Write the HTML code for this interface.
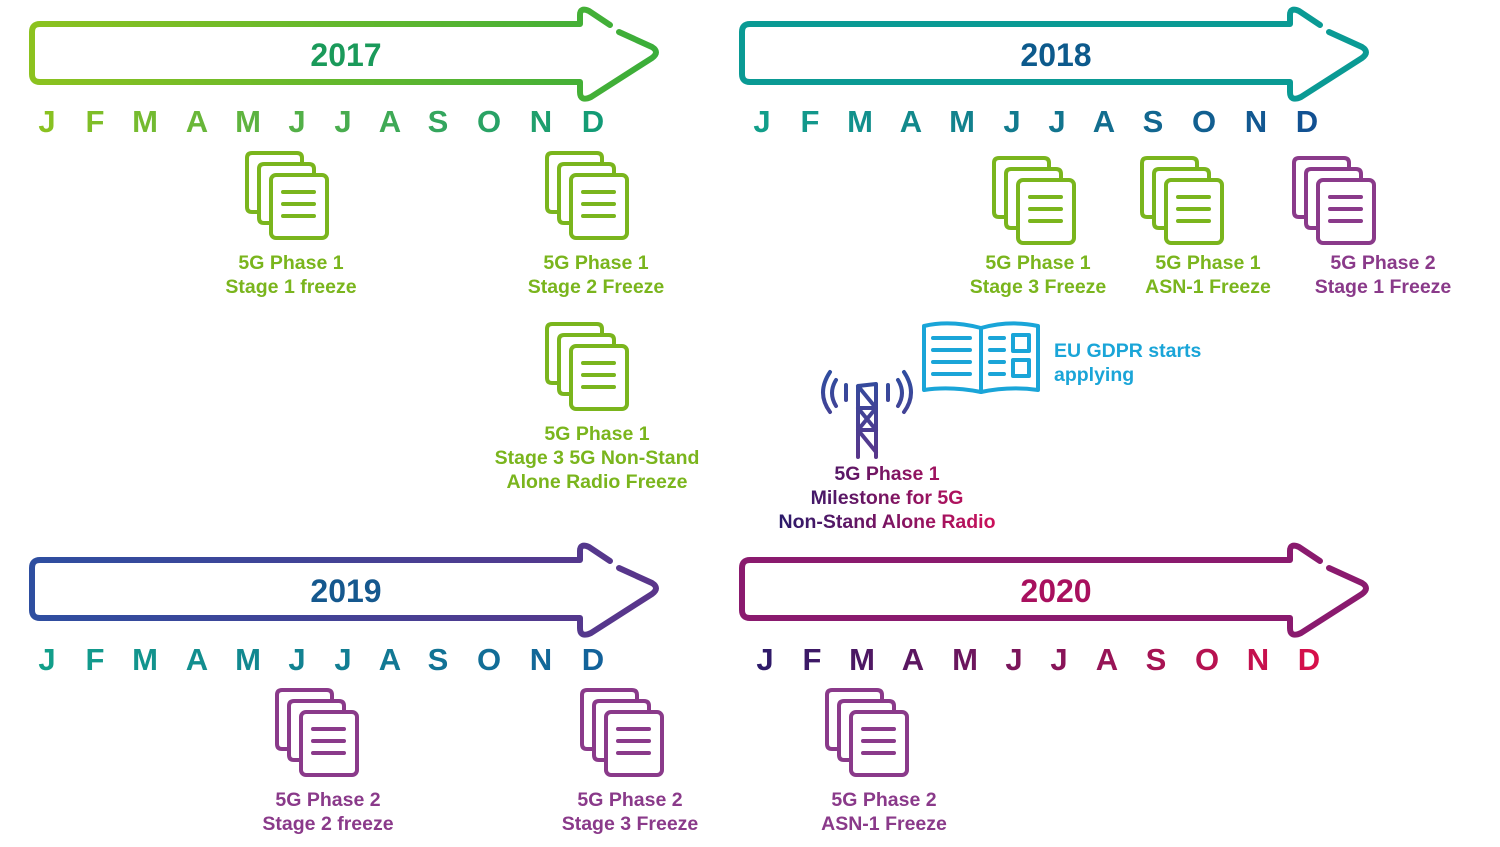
<!DOCTYPE html>
<html><head><meta charset="utf-8"><style>
html,body{margin:0;padding:0;background:#fff;width:1500px;height:847px;overflow:hidden}
svg{display:block;font-family:"Liberation Sans",Arial,sans-serif;font-weight:bold}
</style></head><body>
<svg width="1500" height="847" viewBox="0 0 1500 847">
<defs>
<linearGradient id="g17" gradientUnits="userSpaceOnUse" x1="30" y1="0" x2="662" y2="0"><stop offset="0" stop-color="#8cc21f"/><stop offset="1" stop-color="#3aad3a"/></linearGradient>
<linearGradient id="m17" gradientUnits="userSpaceOnUse" x1="35" y1="0" x2="610" y2="0"><stop offset="0" stop-color="#8cc21f"/><stop offset="1" stop-color="#0f9a78"/></linearGradient>
<linearGradient id="g18" gradientUnits="userSpaceOnUse" x1="740" y1="0" x2="1372" y2="0"><stop offset="0" stop-color="#0a9a94"/><stop offset="1" stop-color="#1a9ec8"/></linearGradient>
<linearGradient id="m18" gradientUnits="userSpaceOnUse" x1="750" y1="0" x2="1320" y2="0"><stop offset="0" stop-color="#12a08a"/><stop offset="1" stop-color="#124f92"/></linearGradient>
<linearGradient id="g19" gradientUnits="userSpaceOnUse" x1="30" y1="0" x2="662" y2="0"><stop offset="0" stop-color="#2e4ea0"/><stop offset="1" stop-color="#5a358a"/></linearGradient>
<linearGradient id="m19" gradientUnits="userSpaceOnUse" x1="35" y1="0" x2="610" y2="0"><stop offset="0" stop-color="#12a08a"/><stop offset="1" stop-color="#12609a"/></linearGradient>
<linearGradient id="g20" gradientUnits="userSpaceOnUse" x1="740" y1="0" x2="1372" y2="0"><stop offset="0" stop-color="#8a1a6e"/><stop offset="1" stop-color="#d8105a"/></linearGradient>
<linearGradient id="m20" gradientUnits="userSpaceOnUse" x1="750" y1="0" x2="1320" y2="0"><stop offset="0" stop-color="#2a1a6a"/><stop offset="1" stop-color="#d8104a"/></linearGradient>
<linearGradient id="mt" gradientUnits="userSpaceOnUse" x1="780" y1="0" x2="1000" y2="0"><stop offset="0" stop-color="#2a1a6a"/><stop offset="1" stop-color="#d0105a"/></linearGradient>
<linearGradient id="tw" gradientUnits="userSpaceOnUse" x1="0" y1="370" x2="0" y2="460"><stop offset="0" stop-color="#2e4ea0"/><stop offset="1" stop-color="#5a358a"/></linearGradient>
<path id="arr" d="M619,32 L652,47 Q660,52 652,58 L591,97 Q580,102 580,92 V82 H40 Q32,82 32,74 V32 Q32,24 40,24 H580 V15 Q580,7 589,11 L610,25" fill="none" stroke-width="6" stroke-linecap="round" stroke-linejoin="round"/>
<g id="doc" fill="none" stroke-width="4" stroke-linejoin="round">
<path d="M258,212 H252 Q247,212 247,207 V158 Q247,153 252,153 H297 Q302,153 302,158 V163"/>
<path d="M270,223 H264 Q259,223 259,218 V169 Q259,164 264,164 H309 Q314,164 314,169 V174" />
<rect x="271" y="175" width="56" height="63" rx="5"/>
<path d="M283,192 H314 M283,204 H314 M283,216 H314" stroke-linecap="round"/>
</g>
</defs>

<use href="#arr" stroke="url(#g17)"/>
<use href="#arr" transform="translate(710,0)" stroke="url(#g18)"/>
<use href="#arr" transform="translate(0,536)" stroke="url(#g19)"/>
<use href="#arr" transform="translate(710,536)" stroke="url(#g20)"/>

<g font-size="32" text-anchor="middle">
<text x="346" y="66" fill="#1a9a5a">2017</text>
<text x="1056" y="66" fill="#0d5a8c">2018</text>
<text x="346" y="602" fill="#15588e">2019</text>
<text x="1056" y="602" fill="#a8105e">2020</text>
</g>

<g font-size="31" text-anchor="middle">
<g fill="url(#m17)"><text x="47" y="132">J</text><text x="95" y="132">F</text><text x="145" y="132">M</text><text x="197" y="132">A</text><text x="248" y="132">M</text><text x="297" y="132">J</text><text x="343" y="132">J</text><text x="390" y="132">A</text><text x="438" y="132">S</text><text x="489" y="132">O</text><text x="541" y="132">N</text><text x="593" y="132">D</text></g>
<g fill="url(#m18)"><text x="762" y="132">J</text><text x="810" y="132">F</text><text x="860" y="132">M</text><text x="911" y="132">A</text><text x="962" y="132">M</text><text x="1012" y="132">J</text><text x="1057" y="132">J</text><text x="1104" y="132">A</text><text x="1153" y="132">S</text><text x="1204" y="132">O</text><text x="1256" y="132">N</text><text x="1307" y="132">D</text></g>
<g fill="url(#m19)"><text x="47" y="670">J</text><text x="95" y="670">F</text><text x="145" y="670">M</text><text x="197" y="670">A</text><text x="248" y="670">M</text><text x="297" y="670">J</text><text x="343" y="670">J</text><text x="390" y="670">A</text><text x="438" y="670">S</text><text x="489" y="670">O</text><text x="541" y="670">N</text><text x="593" y="670">D</text></g>
<g fill="url(#m20)"><text x="765" y="670">J</text><text x="812" y="670">F</text><text x="862" y="670">M</text><text x="913" y="670">A</text><text x="965" y="670">M</text><text x="1014" y="670">J</text><text x="1059" y="670">J</text><text x="1107" y="670">A</text><text x="1156" y="670">S</text><text x="1207" y="670">O</text><text x="1258" y="670">N</text><text x="1309" y="670">D</text></g>
</g>

<use href="#doc" stroke="#7ab51d"/>
<use href="#doc" transform="translate(300,0)" stroke="#7ab51d"/>
<use href="#doc" transform="translate(300,171)" stroke="#7ab51d"/>
<use href="#doc" transform="translate(747,5)" stroke="#7ab51d"/>
<use href="#doc" transform="translate(895,5)" stroke="#7ab51d"/>
<use href="#doc" transform="translate(1047,5)" stroke="#8a3a8a"/>
<use href="#doc" transform="translate(30,537)" stroke="#8a3a8a"/>
<use href="#doc" transform="translate(335,537)" stroke="#8a3a8a"/>
<use href="#doc" transform="translate(580,537)" stroke="#8a3a8a"/>

<g font-size="19.5" text-anchor="middle" fill="#7ab51d">
<text x="291" y="269">5G Phase 1</text><text x="291" y="293">Stage 1 freeze</text>
<text x="596" y="269">5G Phase 1</text><text x="596" y="293">Stage 2 Freeze</text>
<text x="597" y="440">5G Phase 1</text><text x="597" y="464">Stage 3 5G Non-Stand</text><text x="597" y="488">Alone Radio Freeze</text>
<text x="1038" y="269">5G Phase 1</text><text x="1038" y="293">Stage 3 Freeze</text>
<text x="1208" y="269">5G Phase 1</text><text x="1208" y="293">ASN-1 Freeze</text>
</g>
<g font-size="19.5" text-anchor="middle" fill="#8a3a8a">
<text x="1383" y="269">5G Phase 2</text><text x="1383" y="293">Stage 1 Freeze</text>
<text x="328" y="806">5G Phase 2</text><text x="328" y="830">Stage 2 freeze</text>
<text x="630" y="806">5G Phase 2</text><text x="630" y="830">Stage 3 Freeze</text>
<text x="884" y="806">5G Phase 2</text><text x="884" y="830">ASN-1 Freeze</text>
</g>

<g fill="none" stroke="#1aa5d8" stroke-width="4" stroke-linecap="round" stroke-linejoin="round">
<path d="M924,390 V326 Q950,320 981,328 Q1010,320 1038,326 V390 Q1010,386 981,392 Q950,386 924,390 Z"/>
<path d="M981,328 V392"/>
<path d="M933,338 H970 M933,350 H970 M933,362 H970 M933,374 H970 M990,338 H1004 M990,350 H1004 M990,362 H1004 M990,374 H1004"/>
<rect x="1013" y="335" width="16" height="16"/><rect x="1013" y="360" width="16" height="16"/>
</g>
<g font-size="19.5" fill="#1aa5d8"><text x="1054" y="357">EU GDPR starts</text><text x="1054" y="381">applying</text></g>

<g fill="none" stroke="url(#tw)" stroke-width="4" stroke-linecap="round" stroke-linejoin="round">
<path d="M858,457 V386 L876,384 V457 M858,386 L876,408 L858,430 L876,452 M876,408 L858,408 M858,408 L876,430 M858,430 H876"/>
<path d="M846,385 V400 M888,385 V400"/>
<path d="M836,380 Q828,393 836,406 M898,380 Q906,393 898,406"/>
<path d="M830,372 Q816,393 830,412 M904,372 Q918,393 904,412"/>
</g>
<g font-size="19.5" text-anchor="middle" fill="url(#mt)">
<text x="887" y="480">5G Phase 1</text><text x="887" y="504">Milestone for 5G</text><text x="887" y="528">Non-Stand Alone Radio</text>
</g>
</svg>
</body></html>
